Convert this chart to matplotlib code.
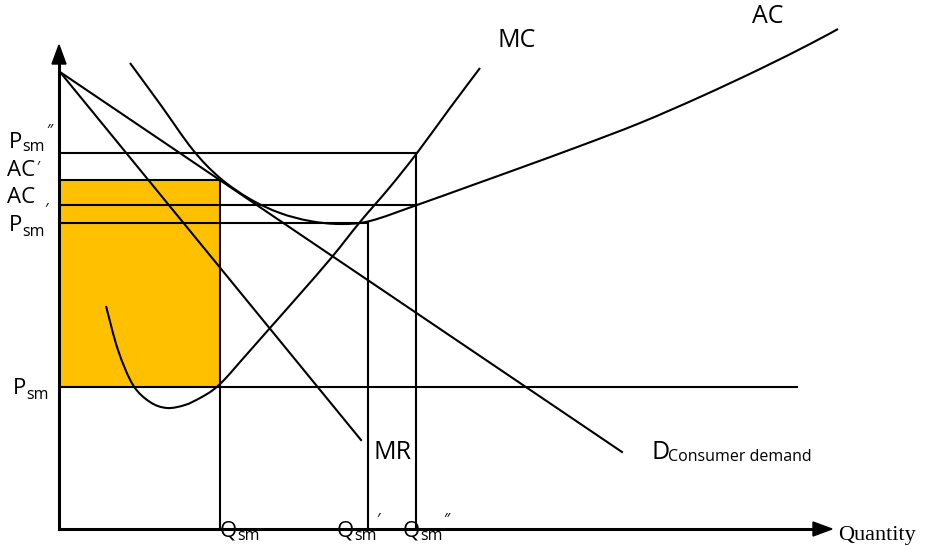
import matplotlib
matplotlib.use("Agg")
import matplotlib.pyplot as plt
from matplotlib.patches import Rectangle, Polygon, PathPatch
from matplotlib.path import Path

# ---- data (in picture units: x right, y down) ----
origin = (59, 529)
axis_top = 45
axis_right = 832

# price levels (y) and quantity levels (x)
p_sm2 = 153      # P_sm''
ac_prime = 180   # AC'
ac_level = 205   # AC
p_sm1 = 223      # P_sm'
p_sm = 387       # P_sm
q_sm = 220
q_sm1 = 368
q_sm2 = 416
p_sm_end = 797

# demand and marginal revenue (straight lines)
demand_x = [60, 622]
demand_y = [72, 452]
mr_x = [60, 361]
mr_y = [72, 440]

# average cost curve
ac_x = [130, 160, 193, 220, 250, 280, 310, 340, 370, 417, 470, 520, 580, 640, 700, 760, 810, 838]
ac_y = [63, 104, 150, 178, 199, 213, 221, 224, 221, 205, 186, 168, 146, 123, 97, 69, 44, 29]

# marginal cost curve
mc_x = [106, 118, 133, 150, 167, 185, 200, 213, 225, 240, 270, 300, 332, 360, 390, 417, 450, 480]
mc_y = [306, 350, 385, 402, 408, 405, 398, 390, 379, 362, 328, 294, 257, 222, 187, 153, 108, 68]

FS = "Open Sans"
fig = plt.figure(figsize=(9.26, 5.45), dpi=100)
ax = fig.add_axes([0, 0, 1, 1])
ax.set_xlim(0, 926)
ax.set_ylim(545, 0)
ax.axis("off")

lw = 1.5
k = "black"


def smooth_curve(xs, ys):
    """Bezier path through the read points (drawn by matplotlib's Path)."""
    pts = list(zip(xs, ys))
    verts = [pts[0]]
    codes = [Path.MOVETO]
    n = len(pts)
    for i in range(n - 1):
        p0 = pts[i - 1] if i > 0 else pts[i]
        p1 = pts[i]
        p2 = pts[i + 1]
        p3 = pts[i + 2] if i + 2 < n else pts[i + 1]
        c1 = (p1[0] + (p2[0] - p0[0]) / 6, p1[1] + (p2[1] - p0[1]) / 6)
        c2 = (p2[0] - (p3[0] - p1[0]) / 6, p2[1] - (p3[1] - p1[1]) / 6)
        verts += [c1, c2, p2]
        codes += [Path.CURVE4] * 3
    return PathPatch(Path(verts, codes), facecolor="none", edgecolor=k, lw=lw, zorder=3)


# shaded rectangle
ax.add_patch(Rectangle((origin[0], ac_prime), q_sm - origin[0], p_sm - ac_prime,
                       facecolor="#FFC000", edgecolor="none", zorder=1))

# horizontal price lines
ax.plot([origin[0], q_sm2], [p_sm2, p_sm2], color=k, lw=lw, zorder=2)
ax.plot([origin[0], q_sm], [ac_prime, ac_prime], color=k, lw=lw, zorder=2)
ax.plot([origin[0], q_sm2], [ac_level, ac_level], color=k, lw=lw, zorder=2)
ax.plot([origin[0], q_sm1], [p_sm1, p_sm1], color=k, lw=lw, zorder=2)
ax.plot([origin[0], p_sm_end], [p_sm, p_sm], color=k, lw=lw, zorder=2)

# vertical quantity lines
ax.plot([q_sm, q_sm], [ac_prime, origin[1]], color=k, lw=lw, zorder=2)
ax.plot([q_sm1, q_sm1], [p_sm1, origin[1]], color=k, lw=lw, zorder=2)
ax.plot([q_sm2, q_sm2], [p_sm2, origin[1]], color=k, lw=lw, zorder=2)

# curves
ax.plot(demand_x, demand_y, color=k, lw=lw, zorder=3)
ax.plot(mr_x, mr_y, color=k, lw=lw, zorder=3)
ax.add_patch(smooth_curve(ac_x, ac_y))
ax.add_patch(smooth_curve(mc_x, mc_y))

# axes with arrows
ax.plot([origin[0], origin[0]], [origin[1], axis_top + 15], color=k, lw=2.2, zorder=4)
ax.plot([origin[0], axis_right - 15], [origin[1], origin[1]], color=k, lw=2.2, zorder=4)
ax.add_patch(Polygon([[origin[0], axis_top], [origin[0] - 7, axis_top + 19],
                      [origin[0] + 7, axis_top + 19]], closed=True, color=k, zorder=5))
ax.add_patch(Polygon([[axis_right, origin[1]], [axis_right - 19, origin[1] - 7],
                      [axis_right - 19, origin[1] + 7]], closed=True, color=k, zorder=5))

big = 18
mid = 16
sub = 11.5


def txt(x, y, s, size, **kw):
    ax.text(x, y, s, fontsize=size, family=FS, color=k, va="baseline", ha="left", **kw)


# left labels
txt(9, 148, "P", mid); txt(22, 151, "sm", sub); txt(46, 136, "\u2032\u2032", sub)
txt(7, 176, "AC", mid); txt(36, 171, "\u2032", 10)
txt(7, 203, "AC", mid)
txt(9, 231, "P", mid); txt(22, 236, "sm", sub); txt(44, 215, "\u2032", sub)
txt(13, 394, "P", mid); txt(26, 399, "sm", sub)

# bottom labels
txt(220, 536, "Q", mid); txt(237, 540, "sm", sub)
txt(337, 536, "Q", mid); txt(354, 540, "sm", sub); txt(376, 525, "\u2032", sub)
txt(403, 536, "Q", mid); txt(420, 540, "sm", sub); txt(443, 525, "\u2032\u2032", sub)

# curve labels
txt(497, 47, "MC", big)
txt(752, 23, "AC", big)
txt(374, 459, "MR", big)
txt(651, 459, "D", big); txt(668, 461, "Consumer demand", sub)
ax.text(838, 540, "Quantity", fontsize=16, family="Liberation Serif", color=k,
        va="baseline", ha="left")

fig.savefig("out.png", dpi=100)
